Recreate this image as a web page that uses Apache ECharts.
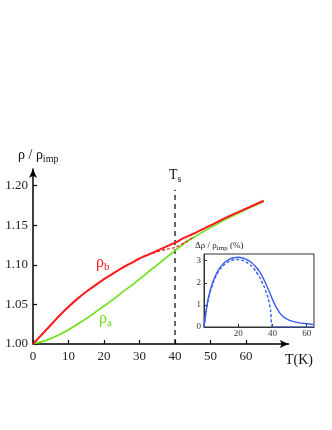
<!DOCTYPE html>
<html>
<head>
<meta charset="utf-8">
<script src="https://cdn.jsdelivr.net/npm/echarts@6/dist/echarts.min.js"></script>
<style>
html,body{margin:0;padding:0;background:#fff;}
#c{width:332px;height:430px;}
</style>
</head>
<body>
<div id="c"></div>
<script>
// ---- data ----
var mainT      = [0, 2.5, 5, 7.5, 10, 12.5, 15, 17.5, 20, 22.5, 25, 27.5, 30, 32.5, 35, 37.5, 40, 42.5, 45, 50, 55, 60, 65];
var rhoB       = [1.000, 1.012, 1.024, 1.036, 1.047, 1.057, 1.066, 1.074, 1.082, 1.089, 1.096, 1.102, 1.108, 1.113, 1.118, 1.123, 1.128, 1.134, 1.139, 1.150, 1.161, 1.171, 1.181];
var rhoA       = [1.000, 1.003, 1.007, 1.012, 1.018, 1.025, 1.032, 1.040, 1.048, 1.056, 1.065, 1.073, 1.082, 1.091, 1.100, 1.109, 1.118, 1.127, 1.134, 1.147, 1.159, 1.170, 1.180];
var rhoBdashT  = [31, 33, 35, 37.5, 40, 42.5, 45];
var rhoBdash   = [1.1105, 1.1135, 1.1165, 1.1195, 1.122, 1.1275, 1.1345];
var TsValue    = 40;
var TsRange    = [1.00, 1.195];
var mainXTicks = [0, 10, 20, 30, 40, 50, 60];
var mainYTicks = [1.00, 1.05, 1.10, 1.15, 1.20];

var insetT      = [0, 1, 2.5, 5, 7.5, 10, 12.5, 15, 17.5, 20, 22.5, 25, 27.5, 30, 32.5, 35, 37.5, 40, 42.5, 45, 47.5, 50, 55, 60, 64];
var insetSolid  = [0, 0.6, 1.3, 2.0, 2.45, 2.75, 2.95, 3.07, 3.13, 3.15, 3.12, 3.05, 2.93, 2.75, 2.5, 2.15, 1.72, 1.25, 0.85, 0.56, 0.4, 0.3, 0.2, 0.15, 0.12];
var insetDashT  = [0, 1, 2.5, 5, 7.5, 10, 12.5, 15, 17.5, 20, 22.5, 25, 27.5, 30, 32.5, 35, 37.5, 39, 40, 45, 64];
var insetDash   = [0, 0.55, 1.25, 1.93, 2.38, 2.67, 2.86, 2.98, 3.04, 3.05, 3.01, 2.92, 2.78, 2.55, 2.25, 1.85, 1.3, 0.7, 0, 0, 0];
var insetXTicks = [20, 40, 60];
var insetYTicks = [0, 1, 2, 3];

function zip(a, b) { return a.map(function (v, i) { return [v, b[i]]; }); }

var FONT = '"Liberation Serif", "DejaVu Serif", serif';
var RED = '#ff1a1a', GREEN = '#6be010', BLUE = '#3a5cf2';

var chart = echarts.init(document.getElementById('c'), null, {renderer: 'canvas'});
chart.setOption({
  animation: false,
  backgroundColor: '#fff',
  grid: [
    {left: 33, top: 169, width: 255.6, height: 175, containLabel: false},
    {left: 204, top: 254, width: 110, height: 73, show: true, borderColor: '#333', borderWidth: 1, backgroundColor: 'transparent', z: 5}
  ],
  xAxis: [
    {
      type: 'value', gridIndex: 0, min: 0, max: 72, splitLine: {show: false},
      axisLine: {lineStyle: {color: '#000', width: 1.5}, symbol: ['none', 'arrow'], symbolSize: [6, 9]},
      axisTick: {inside: true, length: 4, lineStyle: {color: '#000', width: 1.2}, customValues: mainXTicks},
      axisLabel: {customValues: mainXTicks, margin: 6, fontFamily: FONT, fontSize: 13, color: '#222'}
    },
    {
      type: 'value', gridIndex: 1, min: 0, max: 64.3, splitLine: {show: false},
      axisLine: {lineStyle: {color: '#333', width: 1}},
      axisTick: {inside: true, length: 3, lineStyle: {color: '#333'}, customValues: insetXTicks},
      axisLabel: {customValues: insetXTicks, margin: 2, fontFamily: FONT, fontSize: 9, color: '#333'}
    }
  ],
  yAxis: [
    {
      type: 'value', gridIndex: 0, min: 1.0, max: 1.2211, splitLine: {show: false},
      axisLine: {show: true, lineStyle: {color: '#000', width: 1.5}, symbol: ['none', 'arrow'], symbolSize: [6, 9]},
      axisTick: {show: true, inside: true, length: 4, lineStyle: {color: '#000', width: 1.2}, customValues: mainYTicks},
      axisLabel: {customValues: mainYTicks, margin: 5, fontFamily: FONT, fontSize: 13, color: '#222',
        formatter: function (v) { return v.toFixed(2); }}
    },
    {
      type: 'value', gridIndex: 1, min: 0, max: 3.3, splitLine: {show: false},
      axisLine: {show: true, lineStyle: {color: '#333', width: 1}},
      axisTick: {show: true, inside: true, length: 3, lineStyle: {color: '#333'}, customValues: insetYTicks},
      axisLabel: {customValues: insetYTicks, margin: 3, fontFamily: FONT, fontSize: 9, color: '#333'}
    }
  ],
  series: [
    {type: 'line', xAxisIndex: 0, yAxisIndex: 0, data: zip([TsValue, TsValue], TsRange), symbol: 'none',
      lineStyle: {color: '#000', width: 1.2, type: [5, 4]}, z: 1},
    {type: 'line', xAxisIndex: 0, yAxisIndex: 0, data: zip(mainT, rhoA), symbol: 'none', smooth: 0.3,
      lineStyle: {color: GREEN, width: 1.6}, z: 2},
    {type: 'line', xAxisIndex: 0, yAxisIndex: 0, data: zip(rhoBdashT, rhoBdash), symbol: 'none', smooth: 0.3,
      lineStyle: {color: RED, width: 1.2, type: [3, 2]}, z: 3},
    {type: 'line', xAxisIndex: 0, yAxisIndex: 0, data: zip(mainT, rhoB), symbol: 'none', smooth: 0.3,
      lineStyle: {color: RED, width: 2}, z: 4},
    {type: 'line', xAxisIndex: 1, yAxisIndex: 1, data: zip(insetT, insetSolid), symbol: 'none', smooth: 0.3,
      lineStyle: {color: BLUE, width: 1.4}, z: 6},
    {type: 'line', xAxisIndex: 1, yAxisIndex: 1, data: zip(insetDashT, insetDash), symbol: 'none', smooth: 0.2,
      lineStyle: {color: BLUE, width: 1.4, type: [3, 2]}, z: 6}
  ],
  graphic: [
    {type: 'text', left: 18, top: 148, z: 10, style: {
      text: 'ρ / ρ{s|imp}', font: '14px ' + FONT, fill: '#111',
      rich: {s: {fontFamily: FONT, fontSize: 10, padding: [8, 0, 0, 0], fill: '#111'}}}},
    {type: 'text', left: 285, top: 353, z: 10, style: {text: 'T(K)', font: '14px ' + FONT, fill: '#111'}},
    {type: 'text', left: 169, top: 168, z: 10, style: {
      text: 'T{s|s}', font: '14px ' + FONT, fill: '#111',
      rich: {s: {fontFamily: FONT, fontSize: 10, padding: [8, 0, 0, 0], fill: '#111'}}}},
    {type: 'text', left: 96, top: 255, z: 10, style: {
      text: 'ρ{s|b}', font: '16px ' + FONT, fill: RED,
      rich: {s: {fontFamily: FONT, fontSize: 11, padding: [8, 0, 0, 0], fill: RED}}}},
    {type: 'text', left: 99, top: 311, z: 10, style: {
      text: 'ρ{s|a}', font: '16px ' + FONT, fill: GREEN,
      rich: {s: {fontFamily: FONT, fontSize: 11, padding: [8, 0, 0, 0], fill: GREEN}}}},
    {type: 'text', left: 195, top: 241, z: 10, style: {
      text: 'Δρ / ρ{s|imp} (%)', font: '9px ' + FONT, fill: '#222',
      rich: {s: {fontFamily: FONT, fontSize: 7, padding: [5, 0, 0, 0], fill: '#222'}}}}
  ]
});
</script>
</body>
</html>
